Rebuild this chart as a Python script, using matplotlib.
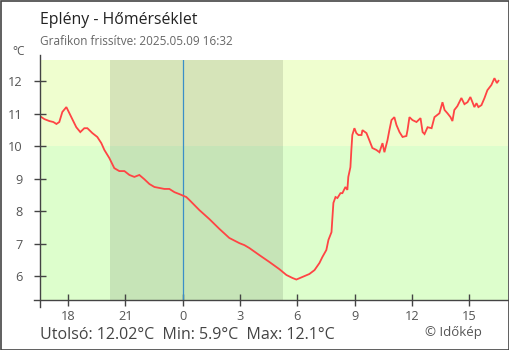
import matplotlib
matplotlib.use("Agg")
import matplotlib.pyplot as plt
from matplotlib.lines import Line2D
from matplotlib.patches import Rectangle

plt.rcParams['font.family'] = ['Open Sans', 'DejaVu Sans']

# Hours relative to midnight of 2025-05-09 (negative = previous evening)
hours = [-7.47, -7.24, -6.98, -6.77, -6.61, -6.46, -6.30, -6.09, -5.93, -5.78,
         -5.57, -5.36, -5.15, -4.99, -4.73, -4.47, -4.26, -4.10, -3.84, -3.58,
         -3.32, -3.05, -2.79, -2.53, -2.27, -2.01, -1.74, -1.48, -1.22, -0.96,
         -0.70, -0.43, -0.17, 0.19, 0.35, 0.87, 1.40, 1.92, 2.44, 2.97,
         3.23, 3.49, 4.02, 4.54, 5.06, 5.43, 5.74, 5.95, 6.27, 6.63,
         6.90, 7.16, 7.31, 7.52, 7.63, 7.79, 7.84, 7.89, 8.00, 8.10,
         8.26, 8.36, 8.52, 8.62, 8.67, 8.78, 8.83, 8.88, 8.99, 9.09,
         9.20, 9.36, 9.41, 9.62, 9.77, 9.93, 10.14, 10.30, 10.46, 10.56,
         10.72, 10.82, 10.93, 11.08, 11.19, 11.35, 11.51, 11.71, 11.77, 11.87,
         12.03, 12.24, 12.45, 12.56, 12.66, 12.82, 13.03, 13.18, 13.44, 13.60,
         13.71, 13.86, 14.02, 14.12, 14.22, 14.38, 14.59, 14.75, 14.91, 15.06,
         15.17, 15.27, 15.38, 15.48, 15.64, 15.80, 15.95, 16.16, 16.32, 16.45,
         16.53]
temps = [10.93, 10.84, 10.78, 10.75, 10.69, 10.75, 11.06, 11.21, 11.02, 10.84,
         10.59, 10.44, 10.56, 10.56, 10.41, 10.29, 10.10, 9.89, 9.64, 9.33,
         9.24, 9.24, 9.12, 9.06, 9.12, 8.99, 8.84, 8.75, 8.72, 8.69,
         8.69, 8.59, 8.53, 8.44, 8.35, 8.04, 7.76, 7.46, 7.18, 7.02,
         6.96, 6.87, 6.65, 6.44, 6.22, 6.04, 5.95, 5.90, 5.98, 6.07,
         6.19, 6.41, 6.59, 6.81, 7.12, 7.36, 7.82, 8.26, 8.44, 8.41,
         8.56, 8.56, 8.75, 8.66, 9.06, 9.36, 9.89, 10.35, 10.56, 10.41,
         10.35, 10.35, 10.50, 10.41, 10.19, 9.95, 9.89, 9.82, 10.10, 9.82,
         10.19, 10.50, 10.81, 10.90, 10.66, 10.44, 10.29, 10.32, 10.50, 10.90,
         10.81, 10.75, 10.87, 10.44, 10.38, 10.59, 10.56, 10.90, 11.02, 11.36,
         11.12, 11.02, 10.90, 10.78, 11.12, 11.24, 11.49, 11.30, 11.36, 11.52,
         11.36, 11.21, 11.33, 11.21, 11.27, 11.49, 11.73, 11.89, 12.10, 11.95,
         12.02]

tick_hours = [-6, -3, 0, 3, 6, 9, 12, 15]
tick_labels = ['18', '21', '0', '3', '6', '9', '12', '15']
y_ticks = [6, 7, 8, 9, 10, 11, 12]

sunset = -3.82   # 20:11
sunrise = 5.25   # 05:15
threshold = 10

W, H = 510, 350
fig = plt.figure(figsize=(W / 100, H / 100), dpi=100)
fig.patch.set_facecolor('white')

x0, x1, yb, yt = 40, 508, 300, 60
ax = fig.add_axes([x0 / W, 1 - yb / H, (x1 - x0) / W, (yb - yt) / H])
xmin, xmax = -7.47, 17.03
ymin, ymax = 5.27, 12.66
ax.set_xlim(xmin, xmax)
ax.set_ylim(ymin, ymax)

# background bands
ax.axhspan(threshold, ymax, color='#effecf', zorder=0, lw=0)
ax.axhspan(ymin, threshold, color='#ddfecc', zorder=0, lw=0)
# night shading
ax.axvspan(sunset, sunrise, color='black', alpha=0.1, zorder=1, lw=0)
# midnight marker
ax.axvline(0, color='#3a8fc8', lw=0.9, zorder=2)

ax.plot(hours, temps, color='#ff4444', lw=1.3, zorder=3, solid_joinstyle='miter')

for s in ax.spines.values():
    s.set_visible(False)

ax.set_xticks(tick_hours)
ax.set_xticklabels(tick_labels)
ax.set_yticks(y_ticks)
ax.tick_params(axis='both', direction='inout', length=9, width=1.0,
               color='#444444', labelcolor='#555555', labelsize=9.2)
ax.tick_params(axis='x', pad=3)
ax.tick_params(axis='y', pad=8)

# axis lines, slightly extended beyond the plot area
fig.add_artist(Line2D([x0 / W, x0 / W], [1 - 307 / H, 1 - 55 / H],
                      color='#444444', lw=1.0))
fig.add_artist(Line2D([34 / W, x1 / W], [1 - yb / H, 1 - yb / H],
                      color='#444444', lw=1.0))

# frame around the whole figure
fig.add_artist(Rectangle((0.5 / W, 0.5 / H), (W - 1.5) / W, (H - 1.5) / H,
                         transform=fig.transFigure, fill=False,
                         edgecolor='#444444', lw=1.2))

def fy(y):
    return 1 - y / H

fig.text(40 / W, fy(24.5), 'Eplény - Hőmérséklet', fontsize=11.4,
         color='#222222', va='baseline', ha='left')
fig.text(40 / W, fy(45), 'Grafikon frissítve: 2025.05.09 16:32', fontsize=8.5,
         color='#666666', va='baseline', ha='left')
fig.text(12 / W, fy(55), '°C', fontsize=8.6, color='#555555',
         va='baseline', ha='left')
fig.text(40 / W, fy(339), 'Utolsó: 12.02°C  Min: 5.9°C  Max: 12.1°C',
         fontsize=11.5, color='#444444', va='baseline', ha='left')
fig.text(482 / W, fy(336), '© Időkép', fontsize=9.5, color='#555555',
         va='baseline', ha='right')

fig.savefig('out.png', dpi=100)
